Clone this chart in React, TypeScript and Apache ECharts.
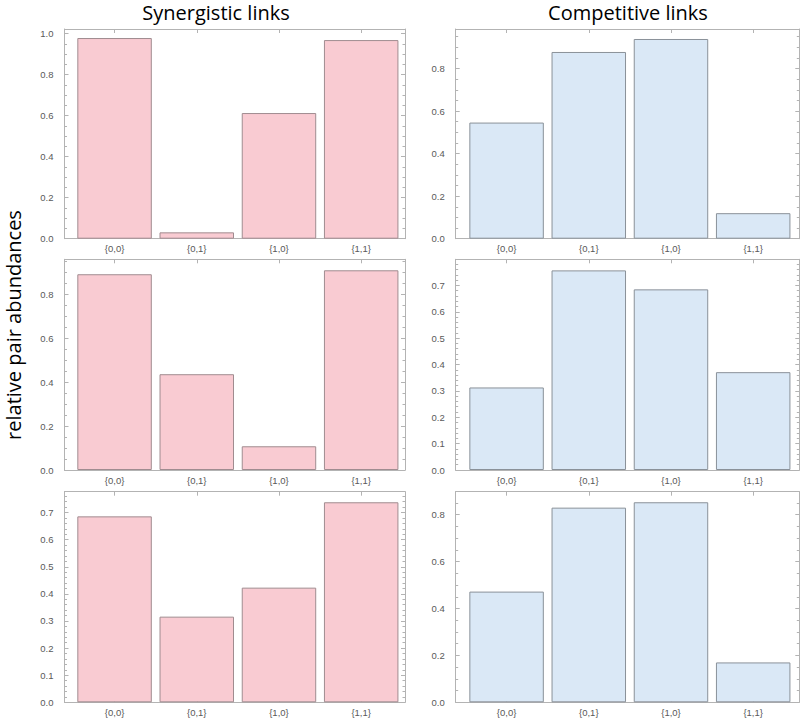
import React, { useEffect, useRef } from "react";
import * as echarts from "echarts";

// ---------- data ----------
const categories = ["{0,0}", "{0,1}", "{1,0}", "{1,1}"];
const columnTitles = ["Synergistic links", "Competitive links"];
const yAxisTitle = "relative pair abundances";

const synergisticRow1 = [0.979, 0.031, 0.613, 0.969];
const competitiveRow1 = [0.546, 0.878, 0.939, 0.12];
const synergisticRow2 = [0.891, 0.436, 0.108, 0.909];
const competitiveRow2 = [0.313, 0.757, 0.685, 0.371];
const synergisticRow3 = [0.686, 0.316, 0.423, 0.738];
const competitiveRow3 = [0.472, 0.83, 0.853, 0.17];

// panel order: row1 left, row1 right, row2 left, row2 right, row3 left, row3 right
const panelValues = [
  synergisticRow1,
  competitiveRow1,
  synergisticRow2,
  competitiveRow2,
  synergisticRow3,
  competitiveRow3,
];
const yMaxes = [1.023, 0.986, 0.959, 0.799, 0.777, 0.898];
const yIntervals = [0.2, 0.2, 0.2, 0.1, 0.1, 0.2];
const yMinorSplits = [4, 4, 4, 5, 5, 4];

// ---------- layout / style ----------
const colLeft = [64.5, 455.7];
const colWidth = [340.5, 343.6];
const xMins = [0.391, 0.381];
const xMaxes = [4.533, 4.561];
const rowTop = [29, 259.3, 491.7];
const rowHeight = [209.7, 210.7, 210.6];

const FRAME = "#b3b3b3";
const TICK_LABEL = "#595959";
const fills = ["#f9cbd2", "#dae8f6"];
const edges = ["#a08c90", "#8a9199"];
const tickFont = "Liberation Sans";
const titleFont = "Open Sans";

export default function App() {
  const ref = useRef<HTMLDivElement>(null);

  useEffect(() => {
    document.body.style.margin = "0";
    if (!ref.current) return;
    const chart = echarts.init(ref.current, undefined, { renderer: "svg" });

    const grids: any[] = [];
    const xAxes: any[] = [];
    const yAxes: any[] = [];
    const series: any[] = [];
    const barCenters = categories.map((_, i) => i + 1);

    panelValues.forEach((vals, p) => {
      const row = Math.floor(p / 2);
      const col = p % 2;
      grids.push({
        left: colLeft[col],
        top: rowTop[row],
        width: colWidth[col],
        height: rowHeight[row],
        containLabel: false,
        outerBoundsMode: "none",
      });
      const lineStyle = { color: FRAME, width: 1 };
      // bottom x axis
      xAxes.push({
        type: "value",
        gridIndex: p,
        position: "bottom",
        min: xMins[col],
        max: xMaxes[col],
        axisLine: { show: true, onZero: false, lineStyle },
        axisTick: { show: true, inside: true, length: 4, customValues: barCenters, lineStyle },
        axisLabel: {
          show: true,
          customValues: barCenters,
          formatter: (v: number) => categories[Math.round(v) - 1] ?? "",
          color: TICK_LABEL,
          fontSize: 9.5,
          fontFamily: tickFont,
          margin: 5,
        },
        splitLine: { show: false },
      });
      // top x axis (frame)
      xAxes.push({
        type: "value",
        gridIndex: p,
        position: "top",
        min: xMins[col],
        max: xMaxes[col],
        axisLine: { show: true, onZero: false, lineStyle },
        axisTick: { show: true, inside: true, length: 4, customValues: barCenters, lineStyle },
        axisLabel: { show: false },
        splitLine: { show: false },
      });
      const yCommon = {
        type: "value",
        gridIndex: p,
        min: 0,
        max: yMaxes[p],
        interval: yIntervals[p],
        splitLine: { show: false },
        minorSplitLine: { show: false },
        axisLine: { show: true, onZero: false, lineStyle },
        axisTick: { show: true, inside: true, length: 4, lineStyle },
        minorTick: { show: true, splitNumber: yMinorSplits[p], length: 2.5, lineStyle },
      };
      yAxes.push({
        ...yCommon,
        position: "left",
        axisLabel: {
          show: true,
          showMaxLabel: false,
          formatter: (v: number) => v.toFixed(1),
          color: TICK_LABEL,
          fontSize: 9.5,
          fontFamily: tickFont,
          margin: 11,
        },
      });
      yAxes.push({
        ...yCommon,
        position: "right",
        axisLabel: { show: false },
      });
      series.push({
        type: "bar",
        xAxisIndex: p * 2,
        yAxisIndex: p * 2,
        barWidth: "90.6%",
        data: vals.map((v, i) => [barCenters[i], v]),
        itemStyle: {
          color: fills[col],
          borderColor: edges[col],
          borderWidth: 1,
        },
        emphasis: { disabled: true },
        z: 2,
      });
    });

    const titleStyle = (text: string) => ({
      text,
      font: `20px "${titleFont}"`,
      fill: "#000",
      textAlign: "center",
      textVerticalAlign: "middle",
    });

    const graphic: any[] = [
      { type: "text", x: 216, y: 12, style: titleStyle(columnTitles[0]) },
      { type: "text", x: 628, y: 12, style: titleStyle(columnTitles[1]) },
      { type: "text", x: 13, y: 325, rotation: Math.PI / 2, style: titleStyle(yAxisTitle) },
    ];

    chart.setOption({
      animation: false,
      backgroundColor: "#ffffff",
      grid: grids,
      xAxis: xAxes,
      yAxis: yAxes,
      series,
      graphic,
    });

    return () => chart.dispose();
  }, []);

  return <div ref={ref} style={{ width: 800, height: 719 }} />;
}
